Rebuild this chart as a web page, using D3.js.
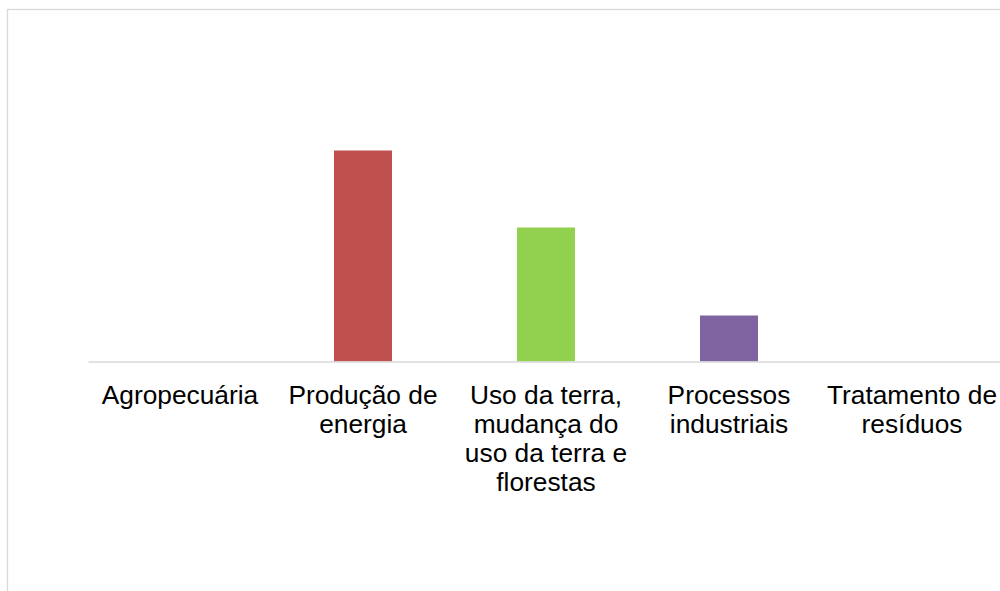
<!DOCTYPE html>
<html>
<head>
<meta charset="utf-8">
<script src="https://cdn.jsdelivr.net/npm/d3@7"></script>
<style>
  html, body { margin: 0; padding: 0; background: #fff; }
  #chart { width: 1000px; height: 591px; overflow: hidden; }
</style>
</head>
<body>
<div id="chart"></div>
<script>
// categories, with the label wrapping used in the original
var categories = ["Agropecuária", "Produção de energia", "Uso da terra, mudança do uso da terra e florestas", "Processos industriais", "Tratamento de resíduos"];
var labelLines = [
    ["Agropecuária"],
    ["Produção de", "energia"],
    ["Uso da terra,", "mudança do", "uso da terra e", "florestas"],
    ["Processos", "industriais"],
    ["Tratamento de", "resíduos"]
];
// values (relative units, axis is hidden)
var values = [0, 211, 134, 46, 0];
var barColors = ["#4f81bd", "#c0504d", "#92d050", "#8064a2", "#4bacc6"];
var yMax = 350;

var width = 1000, height = 591;

var svg = d3.select("#chart")
    .append("svg")
        .attr("width", width)
        .attr("height", height);

// chart area border (runs off the right and bottom edge)
svg.append("rect")
    .attr("x", 7.5)
    .attr("y", 9.5)
    .attr("width", 1100)
    .attr("height", 700)
    .style("fill", "none")
    .style("stroke", "#d9d9d9")
    .style("stroke-width", 1.3);

var x = d3.scaleBand()
    .domain(categories)
    .range([88.5, 1003.5])
    .paddingInner(0.683)
    .paddingOuter(0.3415);

var y = d3.scaleLinear()
    .domain([0, yMax])
    .range([361.5, 11.5]);

/* ------- BARS -------*/
svg.append("g")
    .attr("class", "bars")
    .selectAll("rect")
    .data(values)
    .enter()
    .append("rect")
        .attr("x", function(d, i) { return x(categories[i]); })
        .attr("y", function(d) { return y(d); })
        .attr("width", x.bandwidth())
        .attr("height", function(d) { return y(0) - y(d); })
        .style("fill", function(d, i) { return barColors[i]; });

/* ------- AXIS LINE -------*/
svg.append("line")
    .attr("x1", x.range()[0])
    .attr("x2", x.range()[1])
    .attr("y1", y(0) + 0.5)
    .attr("y2", y(0) + 0.5)
    .style("stroke", "#d9d9d9")
    .style("stroke-width", 1.3);

/* ------- CATEGORY LABELS -------*/
var labels = svg.append("g")
    .attr("class", "labels")
    .selectAll("text")
    .data(categories)
    .enter()
    .append("text")
        .attr("text-anchor", "middle")
        .style("font-family", "'Liberation Sans', Arial, sans-serif")
        .style("font-size", "26.3px")
        .style("fill", "#000");

labels.each(function(d, i) {
    var cx = x(d) + x.bandwidth() / 2;
    var lines = labelLines[i];
    for (var k = 0; k < lines.length; k++) {
        d3.select(this).append("tspan")
            .attr("x", cx)
            .attr("y", 404 + k * 29)
            .text(lines[k]);
    }
});
</script>
</body>
</html>
